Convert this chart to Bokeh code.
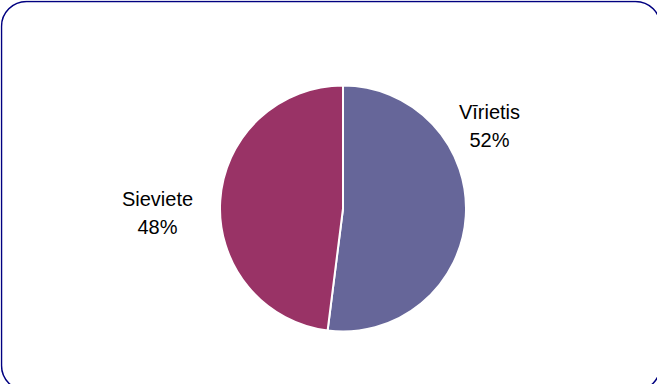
import math
from bokeh.plotting import figure
from bokeh.models import Range1d, ColumnDataSource
from bokeh.core.properties import value
from bokeh.embed import file_html
from bokeh.resources import INLINE

categories = ["Vīrietis", "Sieviete"]
shares = [52, 48]
colors = ["#666699", "#993366"]

# figure placed at page offset (8, 8); ranges map 1 unit = 1 screen pixel
OX, OY = 8, 8
W, H = 657, 384
p = figure(width=W, height=H, output_backend="svg", toolbar_location=None,
           x_range=Range1d(OX, OX + W), y_range=Range1d(-(OY + H), -OY),
           min_border=0, x_axis_location=None, y_axis_location=None)
p.grid.visible = False
p.outline_line_color = None
p.background_fill_color = "white"
p.border_fill_color = "white"

# rounded frame
p.rect(x=[(9 + 668) / 2], y=[-(9 + 398) / 2], width=[668 - 9], height=[398 - 9],
       fill_color=None, line_color="#000080", line_width=1.5, border_radius=25)

cx, cy, r = 350.5, -216, 123
total = sum(shares)
starts, ends = [], []
cum = 0
for s in shares:
    starts.append(math.pi / 2 - 2 * math.pi * cum / total)
    cum += s
    ends.append(math.pi / 2 - 2 * math.pi * cum / total)

src = ColumnDataSource(dict(cat=categories, start=starts, end=ends, color=colors))
p.wedge(x=cx, y=cy, radius=r, start_angle="start", end_angle="end", direction="clock",
        fill_color="color", line_color="white", line_width=2, source=src)

label_x = [497, 165]
label_y = [-119, -206]
pct = [f"{s}%" for s in shares]
p.text(x=label_x, y=label_y, text=categories, text_align="center", text_baseline="alphabetic",
       text_font=value("Liberation Sans"), text_font_size="20px", text_color="black")
p.text(x=label_x, y=[v - 28 for v in label_y], text=pct, text_align="center",
       text_baseline="alphabetic", text_font=value("Liberation Sans"),
       text_font_size="20px", text_color="black")

open("out.html", "w").write(file_html(p, INLINE))
